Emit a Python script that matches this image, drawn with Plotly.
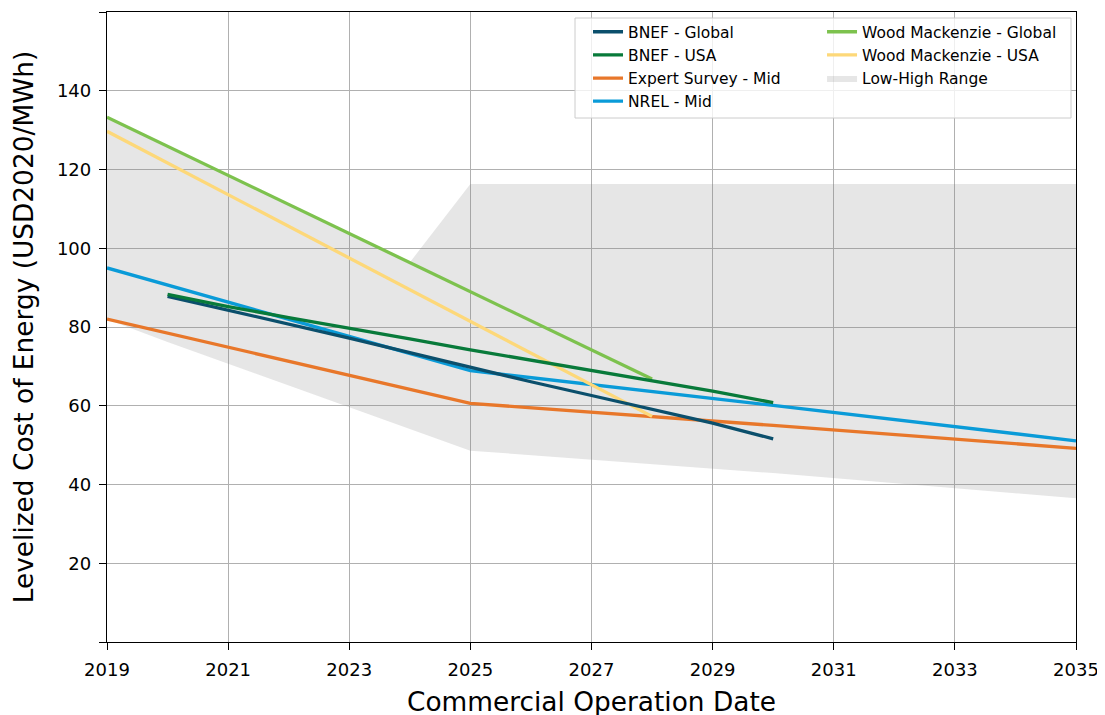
import plotly.graph_objects as go

# ---- data ----
bnef_global_years = [2020, 2021, 2022, 2023, 2024, 2025, 2026, 2027, 2028, 2029, 2030]
bnef_global_vals = [87.8, 84.3, 80.8, 77.2, 73.5, 69.7, 66.1, 62.6, 59.2, 55.6, 51.6]

bnef_usa_years = [2020, 2021, 2022, 2023, 2024, 2025, 2026, 2027, 2028, 2029, 2030]
bnef_usa_vals = [88.3, 85.2, 82.4, 79.8, 77.0, 74.2, 71.6, 69.1, 66.5, 63.7, 60.8]

expert_years = [2019, 2025, 2030, 2035]
expert_vals = [82.0, 60.6, 55.0, 49.2]

nrel_years = [2019, 2025, 2030, 2035]
nrel_vals = [95.0, 68.9, 60.1, 51.1]

wm_global_years = [2019, 2028]
wm_global_vals = [133.3, 66.8]

wm_usa_years = [2019, 2028]
wm_usa_vals = [129.7, 57.3]

range_low_years = [2019, 2020, 2025, 2030, 2035]
range_low_vals = [82.0, 76.2, 48.6, 42.9, 36.5]
range_high_years = [2019, 2024, 2025, 2030, 2035]
range_high_vals = [133.3, 96.4, 116.3, 116.3, 116.3]

x_ticks = [2019, 2021, 2023, 2025, 2027, 2029, 2031, 2033, 2035]
y_ticks = [0, 20, 40, 60, 80, 100, 120, 140, 160]
y_tick_text = ["", "20", "40", "60", "80", "100", "120", "140", ""]

FONT = "DejaVu Sans"

fig = go.Figure()

# Low-High range polygon
fig.add_trace(go.Scatter(
    x=range_low_years + range_high_years[::-1],
    y=range_low_vals + range_high_vals[::-1],
    fill="toself", fillcolor="rgba(128,128,128,0.2)",
    line=dict(width=0, color="rgba(0,0,0,0)"),
    mode="lines", name="Low-High Range", legend="legend2", legendrank=3,
    legendgroup="g7", hoverinfo="skip",
))

series = [
    ("Expert Survey - Mid", expert_years, expert_vals, "#e8772a", "legend", 3),
    ("NREL - Mid", nrel_years, nrel_vals, "#0a9bd8", "legend", 4),
    ("Wood Mackenzie - Global", wm_global_years, wm_global_vals, "#7dc24e", "legend2", 1),
    ("Wood Mackenzie - USA", wm_usa_years, wm_usa_vals, "#fdd879", "legend2", 2),
    ("BNEF - Global", bnef_global_years, bnef_global_vals, "#0b4f6c", "legend", 1),
    ("BNEF - USA", bnef_usa_years, bnef_usa_vals, "#087a3a", "legend", 2),
]
for i, (name, xs, ys, col, leg, rank) in enumerate(series):
    fig.add_trace(go.Scatter(x=xs, y=ys, mode="lines", name=name,
                             line=dict(color=col, width=3.3), legend=leg,
                             legendrank=rank, legendgroup="g%d" % i))

legend_common = dict(
    orientation="v", yanchor="top", y=0.995, xanchor="left",
    bgcolor="rgba(0,0,0,0)", borderwidth=0,
    font=dict(family=FONT, size=15.5, color="black"),
    tracegroupgap=0, traceorder="grouped",
)

fig.update_layout(
    width=1105, height=715,
    margin=dict(l=99, r=37, t=4, b=81, autoexpand=False),
    paper_bgcolor="white", plot_bgcolor="white",
    font=dict(family=FONT, color="black", size=18),
    showlegend=True,
    legend=dict(x=0.4964, **legend_common),
    legend2=dict(x=0.7379, **legend_common),
    shapes=[dict(
        type="rect", xref="paper", yref="paper", layer="above",
        x0=(575 - 107) / 969, x1=(1071 - 107) / 969,
        y0=(642 - 118) / 630, y1=(642 - 18) / 630,
        fillcolor="rgba(255,255,255,0.8)",
        line=dict(color="#cccccc", width=1),
    )],
)
fig.update_xaxes(
    range=[2019, 2035], tickvals=x_ticks, ticktext=[str(t) for t in x_ticks],
    showgrid=True, gridcolor="#b0b0b0", gridwidth=1,
    showline=True, linecolor="black", linewidth=1.3, mirror=True,
    ticks="outside", ticklen=7, tickcolor="black", tickwidth=1.2,
    tickfont=dict(size=18, family=FONT), automargin=False, ticklabelstandoff=4,
    title=dict(text="Commercial Operation Date", font=dict(size=26.4, family=FONT), standoff=13),
    zeroline=False,
)
fig.update_yaxes(
    range=[0, 160], tickvals=y_ticks, ticktext=y_tick_text,
    showgrid=True, gridcolor="#b0b0b0", gridwidth=1,
    showline=True, linecolor="black", linewidth=1.3, mirror=True,
    ticks="outside", ticklen=7, tickcolor="black", tickwidth=1.2,
    tickfont=dict(size=18, family=FONT), automargin=False, ticklabelstandoff=4,
    title=dict(text="Levelized Cost of Energy (USD2020/MWh)", font=dict(size=26.4, family=FONT), standoff=22),
    zeroline=False,
)

fig.write_html("out.html")
